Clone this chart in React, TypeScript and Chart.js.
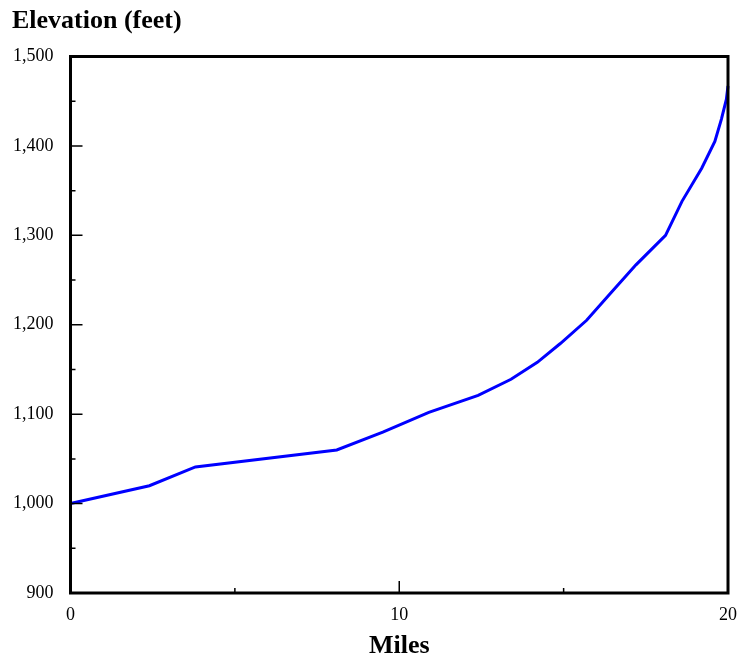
import React, { useEffect, useRef } from 'react';
import { Chart, registerables } from 'chart.js';

Chart.register(...registerables);

// Data
const miles = [0, 2.4, 3.8, 8.1, 9.5, 10.9, 12.4, 13.4, 14.2, 14.9, 15.7, 16.4, 17.2, 18.1, 18.6, 19.2, 19.6, 19.8, 19.95, 20];
const elevation = [1000, 1020, 1041, 1060, 1080, 1102, 1121, 1139, 1158, 1179, 1205, 1234, 1267, 1300, 1338, 1375, 1405, 1430, 1452, 1467];

const xMajorTicks = [0, 10, 20];
const xMinorTicks = [5, 15];
const yMajorTicks = [900, 1000, 1100, 1200, 1300, 1400, 1500];
const yMinorTicks = [950, 1050, 1150, 1250, 1350, 1450];

const chartTitle = 'Elevation (feet)';
const xTitle = 'Miles';

const FONT = "'Liberation Serif', 'Times New Roman', serif";

const framePlugin = {
  id: 'frameTicks',
  afterDatasetsDraw(chart: any) {
    const { ctx, chartArea, scales } = chart;
    const { left, right, top, bottom } = chartArea;
    const x = scales.x;
    const y = scales.y;
    ctx.save();
    ctx.strokeStyle = '#000';
    ctx.lineWidth = 1.5;
    ctx.beginPath();
    yMajorTicks.forEach((v) => {
      const py = y.getPixelForValue(v);
      ctx.moveTo(left, py);
      ctx.lineTo(left + 12, py);
    });
    yMinorTicks.forEach((v) => {
      const py = y.getPixelForValue(v);
      ctx.moveTo(left, py);
      ctx.lineTo(left + 5, py);
    });
    xMajorTicks.forEach((v) => {
      const px = x.getPixelForValue(v);
      ctx.moveTo(px, bottom);
      ctx.lineTo(px, bottom - 12);
    });
    xMinorTicks.forEach((v) => {
      const px = x.getPixelForValue(v);
      ctx.moveTo(px, bottom);
      ctx.lineTo(px, bottom - 5);
    });
    ctx.stroke();
    ctx.lineWidth = 3;
    ctx.strokeRect(left, top, right - left, bottom - top);
    ctx.restore();
  },
};

export default function App() {
  const canvasRef = useRef<HTMLCanvasElement | null>(null);

  useEffect(() => {
    if (!canvasRef.current) return;
    const chart = new Chart(canvasRef.current, {
      type: 'line',
      data: {
        datasets: [
          {
            data: miles.map((m, i) => ({ x: m, y: elevation[i] })),
            borderColor: '#0000ff',
            borderWidth: 3,
            pointRadius: 0,
            tension: 0,
            fill: false,
            clip: false as any,
          },
        ],
      },
      options: {
        animation: false,
        responsive: false,
        devicePixelRatio: 1,
        layout: { padding: { left: 12, right: 12, top: 0, bottom: 0 } },
        plugins: {
          legend: { display: false },
          tooltip: { enabled: false },
          title: {
            display: true,
            text: chartTitle,
            align: 'start',
            color: '#000',
            font: { family: FONT, size: 26, weight: 'bold' },
            padding: { top: 6, bottom: 19.3 },
          },
        },
        scales: {
          x: {
            type: 'linear',
            min: 0,
            max: 20,
            grid: { display: false, drawTicks: false },
            border: { display: false },
            ticks: {
              stepSize: 10,
              padding: 11,
              color: '#000',
              font: { family: FONT, size: 18 },
              maxRotation: 0,
              autoSkip: false,
            },
            title: {
              display: true,
              text: xTitle,
              color: '#000',
              font: { family: FONT, size: 26, weight: 'bold' },
              padding: { top: 0, bottom: 2.5 },
            },
            afterFit(scale: any) {
              scale.height = 71;
              scale.paddingLeft = 0;
              scale.paddingRight = 0;
            },
          },
          y: {
            type: 'linear',
            min: 900,
            max: 1500,
            grid: { display: false, drawTicks: false },
            border: { display: false },
            ticks: {
              stepSize: 100,
              padding: 17,
              color: '#000',
              font: { family: FONT, size: 18 },
              callback: (v: any) => Number(v).toLocaleString('en-US'),
            },
            afterFit(scale: any) {
              scale.width = 58.5;
              scale.paddingTop = 0;
              scale.paddingBottom = 0;
            },
          },
        },
      },
      plugins: [framePlugin],
    });
    return () => chart.destroy();
  }, []);

  return (
    <div style={{ position: 'fixed', left: 0, top: 0, width: 740, height: 664, background: '#fff' }}>
      <canvas ref={canvasRef} width={740} height={664} />
    </div>
  );
}
